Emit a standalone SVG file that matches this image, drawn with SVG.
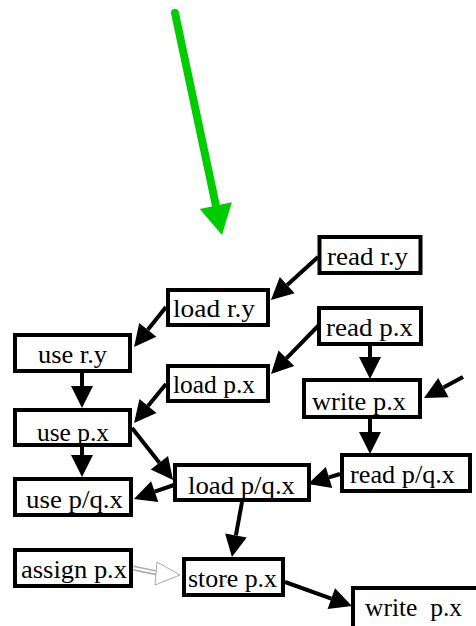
<svg xmlns="http://www.w3.org/2000/svg" width="476" height="626" viewBox="0 0 476 626">
  <style>
    .box rect { fill: #ffffff; stroke: #000000; stroke-width: 4; }
    .box text { font-family: "Liberation Serif", "Times New Roman", serif; font-size: 26px; fill: #000000; white-space: pre; }
    .edge { fill: none; stroke: #000000; stroke-width: 4; marker-end: url(#head); }
  </style>
  <defs>
    <marker id="head" markerUnits="userSpaceOnUse" markerWidth="24" markerHeight="24" refX="0" refY="0" orient="auto" overflow="visible">
      <path d="M0,-11 L22,0 L0,11 z" fill="#000000"/>
    </marker>
  </defs>

  <!-- entry arrow -->
  <g id="entry">
    <line x1="175" y1="13" x2="216" y2="206" stroke="#00cc00" stroke-width="8" stroke-linecap="round"/>
    <polygon points="222,235 199.7,209.1 231.9,202.3" fill="#00cc00"/>
  </g>

  <!-- connectors -->
  <g id="connectors">
    <line class="edge" x1="318" y1="257" x2="287.2" y2="285.1"/>
    <line class="edge" x1="166" y1="307" x2="147.8" y2="329.8"/>
    <line class="edge" x1="318" y1="326" x2="286.4" y2="358.3"/>
    <line class="edge" x1="166" y1="384" x2="148" y2="406"/>
    <line class="edge" x1="370" y1="346" x2="370" y2="357"/>
    <line class="edge" x1="463" y1="377" x2="443.4" y2="387.6"/>
    <line class="edge" x1="82" y1="373" x2="82" y2="386"/>
    <line class="edge" x1="82" y1="447" x2="82" y2="455"/>
    <line class="edge" x1="132" y1="428" x2="159.4" y2="462.7"/>
    <line class="edge" x1="174" y1="485" x2="154.7" y2="491.7"/>
    <line class="edge" x1="340" y1="474" x2="329" y2="477.4"/>
    <line class="edge" x1="370" y1="419" x2="370" y2="432"/>
    <line class="edge" x1="242" y1="502" x2="235.9" y2="535.4"/>
    <line class="edge" x1="285" y1="582" x2="331.3" y2="598.6"/>
    <!-- hollow double-line arrow -->
    <line x1="133" y1="568" x2="157" y2="573" stroke="#aaaaaa" stroke-width="5"/>
    <line x1="133" y1="568" x2="158" y2="573" stroke="#ffffff" stroke-width="2"/>
    <polygon points="180,575 157,562 155,585" fill="#ffffff" stroke="#aaaaaa" stroke-width="1"/>
  </g>

  <g id="read-ry" class="box"><rect x="319.5" y="237" width="101" height="36"/><text x="327" y="265" textLength="81" lengthAdjust="spacingAndGlyphs">read r.y</text></g>
  <g id="load-ry" class="box"><rect x="168" y="290" width="100" height="35"/><text x="173" y="317" textLength="82" lengthAdjust="spacingAndGlyphs">load r.y</text></g>
  <g id="use-ry" class="box"><rect x="15" y="335" width="115" height="36"/><text x="38" y="363" textLength="69" lengthAdjust="spacingAndGlyphs">use r.y</text></g>
  <g id="read-px" class="box"><rect x="319" y="308" width="102" height="36"/><text x="326" y="336" textLength="87" lengthAdjust="spacingAndGlyphs">read p.x</text></g>
  <g id="load-px" class="box"><rect x="168" y="366" width="100" height="35"/><text x="173" y="393" textLength="82" lengthAdjust="spacingAndGlyphs">load p.x</text></g>
  <g id="write-px" class="box"><rect x="304" y="380" width="116" height="37"/><text x="312" y="410" textLength="94" lengthAdjust="spacingAndGlyphs">write p.x</text></g>
  <g id="use-px" class="box"><rect x="15" y="410" width="115" height="35"/><text x="37" y="441" textLength="72" lengthAdjust="spacingAndGlyphs">use p.x</text></g>
  <g id="use-pqx" class="box"><rect x="15" y="479" width="116" height="36"/><text x="26" y="508" textLength="97" lengthAdjust="spacingAndGlyphs">use p/q.x</text></g>
  <g id="load-pqx" class="box"><rect x="175" y="465" width="134" height="35"/><text x="188" y="494" textLength="107" lengthAdjust="spacingAndGlyphs">load p/q.x</text></g>
  <g id="read-pqx" class="box"><rect x="342" y="455" width="128" height="36"/><text x="350" y="483" textLength="105" lengthAdjust="spacingAndGlyphs">read p/q.x</text></g>
  <g id="assign-px" class="box"><rect x="15" y="550" width="116" height="36"/><text x="21" y="578" textLength="106" lengthAdjust="spacingAndGlyphs">assign p.x</text></g>
  <g id="store-px" class="box"><rect x="184" y="559" width="99" height="36"/><text x="188" y="587" textLength="89" lengthAdjust="spacingAndGlyphs">store p.x</text></g>
  <g id="write-px-out" class="box"><rect x="353" y="588" width="130" height="44"/><text x="365" y="616" textLength="97" lengthAdjust="spacingAndGlyphs">write  p.x</text></g>
</svg>
